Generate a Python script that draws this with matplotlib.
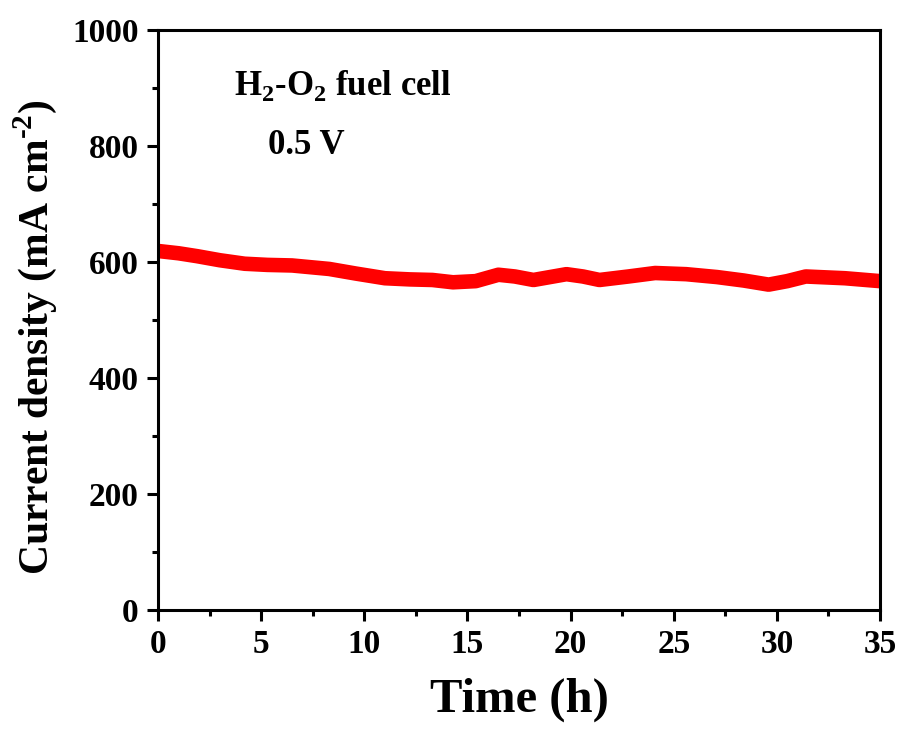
import matplotlib.pyplot as plt
from matplotlib.ticker import MultipleLocator

# values
time_h = [0, 1.0, 1.9, 3.0, 4.2, 5.3, 6.5, 7.4, 8.3, 9.6, 11.0, 12.2,
          13.3, 14.3, 15.4, 16.0, 16.5, 17.3, 18.2, 19.0, 19.8, 20.6,
          21.4, 22.8, 24.1, 25.6, 27.1, 28.4, 29.6, 30.5, 31.4, 33.3, 35]
current = [619, 615, 610, 603, 597, 595, 594, 591, 588, 580, 572, 570,
           569, 565, 567, 573, 578, 575, 569, 574, 579, 575,
           569, 575, 581, 579, 574, 568, 561, 567, 575, 572, 567]

plt.rcParams['font.family'] = 'Liberation Serif'
plt.rcParams['font.weight'] = 'bold'
plt.rcParams['mathtext.fontset'] = 'custom'
plt.rcParams['mathtext.rm'] = 'Liberation Serif:bold'
plt.rcParams['mathtext.bf'] = 'Liberation Serif:bold'


def main():
    fig = plt.figure(figsize=(9.04, 7.44), dpi=100)
    ax = fig.add_axes([0.1748, 0.1801, 0.7987, 0.7796])

    ax.plot(time_h, current, color='#ff0000', lw=10.5,
            solid_capstyle='butt', solid_joinstyle='round')

    ax.set_xlim(0, 35)
    ax.set_ylim(0, 1000)
    ax.xaxis.set_major_locator(MultipleLocator(5))
    ax.xaxis.set_minor_locator(MultipleLocator(2.5))
    ax.yaxis.set_major_locator(MultipleLocator(200))
    ax.yaxis.set_minor_locator(MultipleLocator(100))
    ax.tick_params(which='both', direction='out', width=2.2, labelsize=24)
    ax.tick_params(which='major', length=8, pad=6)
    ax.tick_params(which='minor', length=4)
    for s in ax.spines.values():
        s.set_linewidth(2.2)

    ax.set_xlabel('Time (h)', fontsize=35, fontweight='bold', labelpad=12)
    ax.set_ylabel(r'Current density (mA cm$^{\text{-}2}$)', fontsize=30,
                  fontweight='bold')
    ax.yaxis.set_label_coords(-0.137, 0.47)

    ax.text(0.105, 0.905, r'H$_2$-O$_2$ fuel cell', transform=ax.transAxes,
            fontsize=25, fontweight='bold', va='center')
    ax.text(0.152, 0.80, '0.5 V', transform=ax.transAxes,
            fontsize=25, fontweight='bold', va='center')

    fig.savefig('out.png', dpi=100)


if __name__ == '__main__':
    main()
